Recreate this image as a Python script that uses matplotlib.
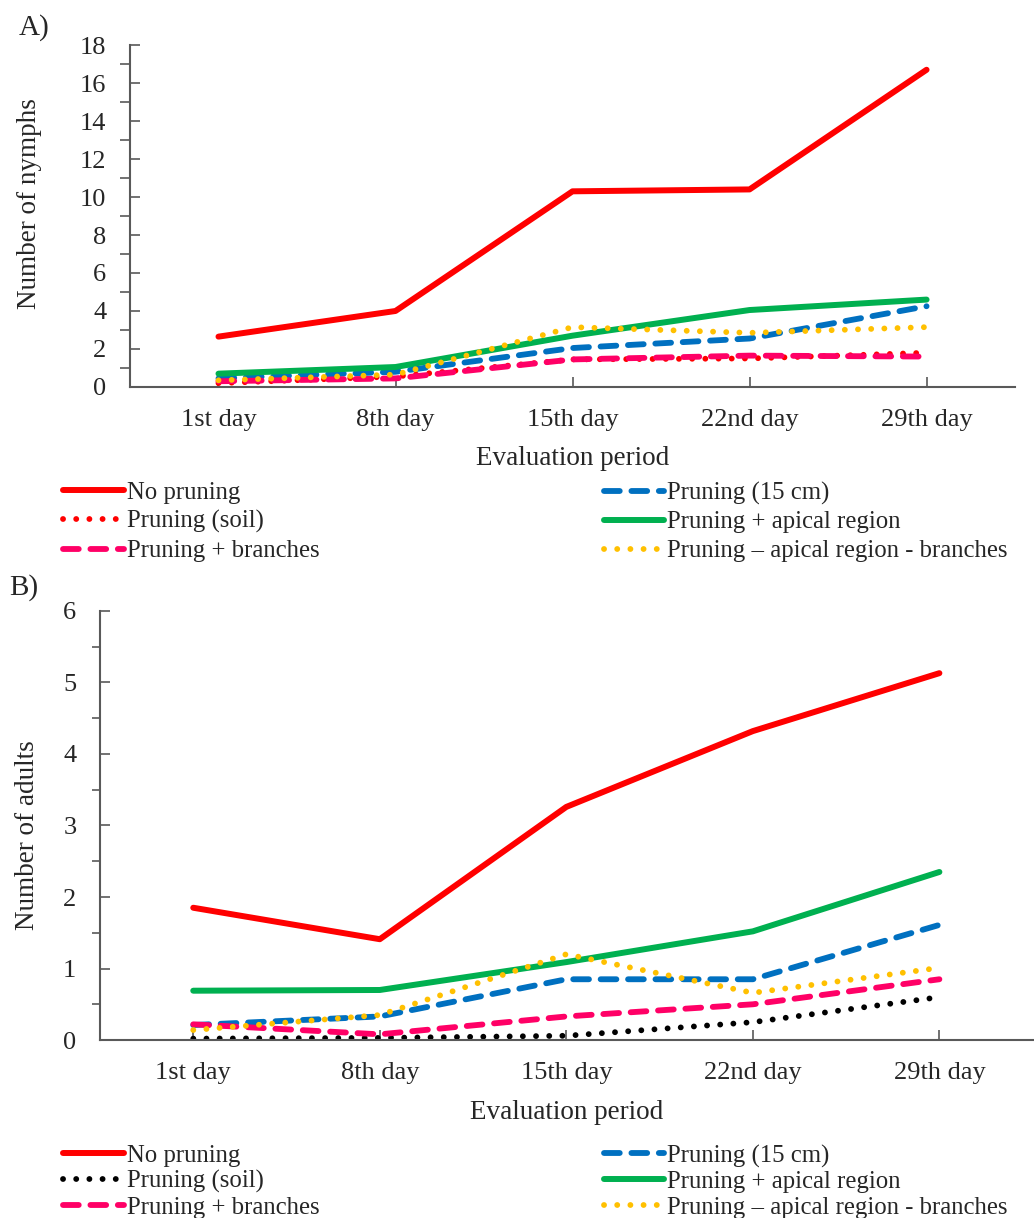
import matplotlib.pyplot as plt
from matplotlib.ticker import MultipleLocator

plt.rcParams['font.family'] = ['Liberation Serif', 'DejaVu Serif']

# Categories on the x axis
days = ['1st day', '8th day', '15th day', '22nd day', '29th day']

# A) Number of nymphs
nymphs_no_pruning = [2.65, 4.0, 10.3, 10.4, 16.7]
nymphs_15cm = [0.45, 0.8, 2.05, 2.55, 4.25]
nymphs_soil = [0.2, 0.55, 1.45, 1.5, 1.8]
nymphs_apical = [0.7, 1.05, 2.7, 4.05, 4.6]
nymphs_branches = [0.3, 0.45, 1.45, 1.65, 1.6]
nymphs_no_apical_branches = [0.35, 0.65, 3.15, 2.85, 3.15]

# B) Number of adults
adults_no_pruning = [1.85, 1.41, 3.26, 4.32, 5.13]
adults_15cm = [0.21, 0.33, 0.85, 0.85, 1.61]
adults_soil = [0.02, 0.03, 0.06, 0.25, 0.6]
adults_apical = [0.69, 0.70, 1.09, 1.52, 2.35]
adults_branches = [0.22, 0.08, 0.33, 0.50, 0.85]
adults_no_apical_branches = [0.14, 0.35, 1.2, 0.66, 1.01]

labels = ['No pruning', 'Pruning (15 cm)', 'Pruning (soil)', 'Pruning + apical region',
          'Pruning + branches', 'Pruning \u2013 apical region - branches']

DOT = (0, (0.01, 2.25))
DASH = (0, (2.7, 2.0))
TXT = '#262626'
SPINE = '#595959'


def styles(soil_color):
    return [
        dict(color='#FF0000', ls='-', lw=4.3),
        dict(color='#0070C0', ls=DASH, lw=4.2),
        dict(color=soil_color, ls=DOT, lw=4.2),
        dict(color='#00B050', ls='-', lw=4.3),
        dict(color='#FF0066', ls=DASH, lw=4.2),
        dict(color='#FFC000', ls=DOT, lw=4.2),
    ]


def draw_panel(ax, series, soil_color, ymax, major, minor, minor_len, ylabel, ylab_xy,
               leg_top, leg_spacing):
    x = list(range(len(days)))
    handles = []
    for values, label, st in zip(series, labels, styles(soil_color)):
        h, = ax.plot(x, values, color=st['color'], linestyle=st['ls'], linewidth=st['lw'],
                     solid_capstyle='round', dash_capstyle='round', label=label)
        handles.append(h)
    ax.set_xlim(-0.5, 4.5)
    ax.set_ylim(0, ymax)
    ax.set_xticks(x)
    ax.set_xticklabels(days)
    ax.yaxis.set_major_locator(MultipleLocator(major))
    ax.yaxis.set_minor_locator(MultipleLocator(minor))
    ax.tick_params(axis='both', direction='in', labelsize=19, colors=TXT)
    ax.tick_params(axis='y', which='major', length=7.5, width=1.2, color=SPINE, pad=17)
    ax.tick_params(axis='y', which='minor', length=minor_len, width=1.2, color=SPINE)
    ax.tick_params(axis='x', length=7, width=1.2, color=SPINE, pad=16)
    for s in ['top', 'right']:
        ax.spines[s].set_visible(False)
    for s in ['left', 'bottom']:
        ax.spines[s].set_color(SPINE)
        ax.spines[s].set_linewidth(1.5)
    ax.set_xlabel('Evaluation period', fontsize=19.5, color=TXT, labelpad=11)
    ax.set_ylabel(ylabel, fontsize=19.5, color=TXT)
    ax.yaxis.set_label_coords(*ylab_xy)

    # legend in two columns placed below the axes
    order = [[0, 2, 4], [1, 3, 5]]
    for col, xpos in zip(order, [0.061, 0.584]):
        leg = fig.legend([handles[i] for i in col], [labels[i] for i in col],
                         loc='upper left', bbox_to_anchor=(xpos, leg_top),
                         frameon=False, fontsize=17.8, handlelength=2.45, handletextpad=0.12,
                         labelspacing=leg_spacing, borderpad=0, borderaxespad=0)
        for t in leg.get_texts():
            t.set_color(TXT)


fig = plt.figure(figsize=(10.34, 12.18), dpi=100)
ax1 = fig.add_axes([0.1257, 0.6823, 0.856, 0.2807])
ax2 = fig.add_axes([0.0967, 0.1461, 0.902, 0.3523])

draw_panel(ax1, [nymphs_no_pruning, nymphs_15cm, nymphs_soil, nymphs_apical,
                 nymphs_branches, nymphs_no_apical_branches],
           '#FF0000', 18, 2, 1, 7.5, 'Number of nymphs', (-0.0994, 0.535), 0.6046, 0.26)
draw_panel(ax2, [adults_no_pruning, adults_15cm, adults_soil, adults_apical,
                 adults_branches, adults_no_apical_branches],
           '#000000', 6, 1, 0.5, 6, 'Number of adults', (-0.064, 0.478), 0.0604, 0.13)

fig.text(0.018, 0.977, 'A)', fontsize=21, color=TXT, va='center')
fig.text(0.009, 0.518, 'B)', fontsize=21, color=TXT, va='center')

fig.savefig('out.png', dpi=100)
